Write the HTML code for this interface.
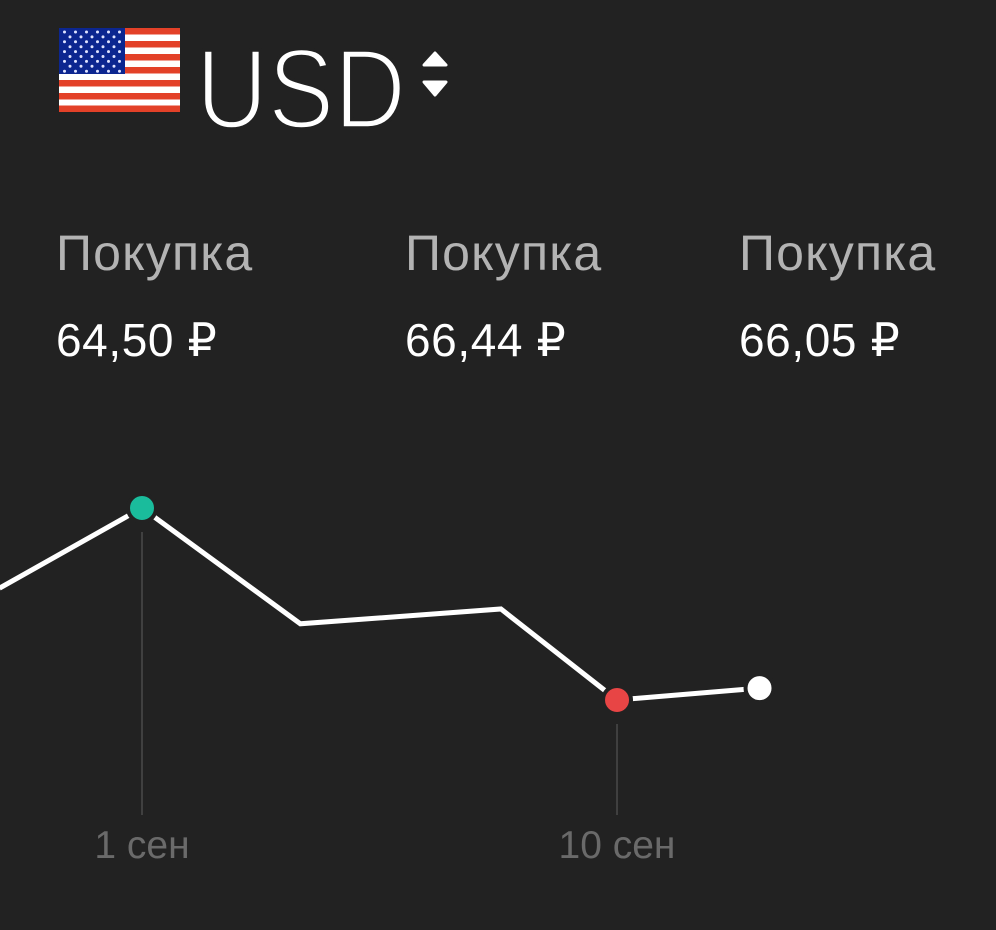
<!DOCTYPE html>
<html><head><meta charset="utf-8"><style>
html,body{margin:0;padding:0;background:#222222;width:996px;height:930px;overflow:hidden;font-family:"Liberation Sans","DejaVu Sans",sans-serif}
.t{position:absolute;white-space:nowrap;line-height:1.15}
.lbl{color:#b3b3b3;font-size:50px;top:225px;letter-spacing:1.2px}
.val{color:#fff;font-size:46px;top:314px;letter-spacing:0.6px}
</style></head><body>
<svg style="position:absolute;left:59px;top:28px" width="121" height="84" viewBox="0 0 121 84">
<rect width="121" height="84" fill="#fff"/>
<g fill="#e34128">
<rect y="0" width="121" height="6.5"/><rect y="13" width="121" height="6.5"/><rect y="26" width="121" height="6.5"/><rect y="39" width="121" height="6.5"/><rect y="52" width="121" height="6.5"/><rect y="65" width="121" height="6.5"/><rect y="77.5" width="121" height="6.5"/>
</g>
<rect width="66" height="46" fill="#0c2690"/>
<g fill="#dfe3ff" id="stars"></g>
</svg>
<svg style="position:absolute;left:0;top:0" width="420" height="150"><text x="196" y="128" font-size="113" font-family="Liberation Sans, sans-serif" fill="#fff" stroke="#222" stroke-width="3.5" textLength="210" lengthAdjust="spacingAndGlyphs">USD</text></svg>
<svg style="position:absolute;left:420px;top:48px" width="30" height="54"><path d="M4 17 L15 5 L26 17 Z" fill="#fff" stroke="#fff" stroke-linejoin="round" stroke-width="3"/><path d="M4 34 L15 47 L26 34 Z" fill="#fff" stroke="#fff" stroke-linejoin="round" stroke-width="3"/></svg>
<div class="t lbl" style="left:56px">Покупка</div>
<div class="t lbl" style="left:405px">Покупка</div>
<div class="t lbl" style="left:739px">Покупка</div>
<div class="t val" style="left:56px">64,50 ₽</div>
<div class="t val" style="left:405px">66,44 ₽</div>
<div class="t val" style="left:739px">66,05 ₽</div>
<svg id="chart" style="position:absolute;left:0;top:0" width="996" height="930"></svg>
<script>
var stars=document.getElementById('stars');
for(var r=0;r<9;r++){for(var c=0;c<(r%2?5:6);c++){var s=document.createElementNS('http://www.w3.org/2000/svg','circle');s.setAttribute('cx',5.5+c*11+(r%2?5.5:0));s.setAttribute('cy',4+r*4.9);s.setAttribute('r',1.5);stars.appendChild(s);}}
</script>
<script>
var days=[-1.7,1,4,7.8,10,12.7];
var rates=[65.63,66.44,65.27,65.42,64.50,64.62];
var tickDays=[1,10];
var tickLabels=["1 сен","10 сен"];
var markerColors=["","#1abc9c","","","#e84545","#ffffff"];
function xs(d){return 142+(d-1)*52.78;}
function ys(v){return 508+(66.44-v)*98.97;}
var NS='http://www.w3.org/2000/svg',svg=document.getElementById('chart');
function el(t,a){var e=document.createElementNS(NS,t);for(var k in a)e.setAttribute(k,a[k]);svg.appendChild(e);return e;}
tickDays.forEach(function(d,i){
 var idx=days.indexOf(d);var yTop=idx>=0?ys(rates[idx])+24:530;
 var g=el('line',{x1:xs(d),x2:xs(d),y1:yTop,y2:815,stroke:'#4a4a4a','stroke-width':1.5});
 
 
 var t=el('text',{x:xs(d),y:858,'text-anchor':'middle',fill:'#6a6a6a','font-size':39,'font-family':'Liberation Sans, sans-serif'});
 t.textContent=tickLabels[i];
 
 
});
var pts=days.map(function(d,i){return xs(d)+','+ys(rates[i]);}).join(' ');
var line=el('polyline',{points:pts,fill:'none',stroke:'#fff','stroke-width':5,'stroke-linejoin':'miter'});


days.forEach(function(d,i){if(!markerColors[i])return;
 var c=el('circle',{cx:xs(d),cy:ys(rates[i]),r:14,fill:markerColors[i],stroke:'#222','stroke-width':4});
 
 
});
</script>
</body></html>
